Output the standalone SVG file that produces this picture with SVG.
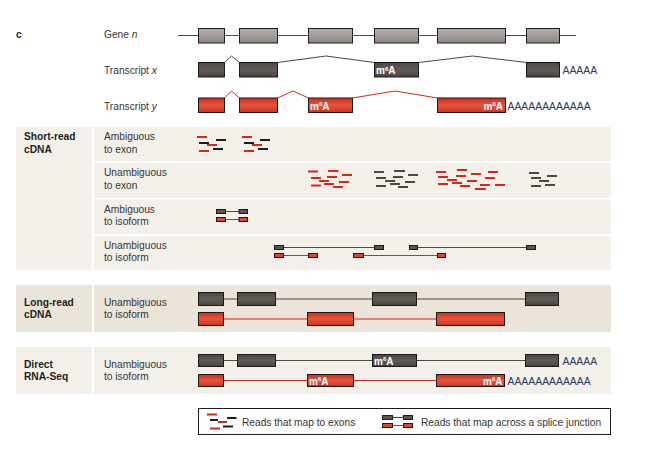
<svg xmlns="http://www.w3.org/2000/svg" width="648" height="455" viewBox="0 0 648 455">
<defs>
<linearGradient id="gGene" x1="0" y1="0" x2="0" y2="1"><stop offset="0" stop-color="#b4aeac"/><stop offset="0.5" stop-color="#a29b99"/><stop offset="1" stop-color="#8e8785"/></linearGradient>
<linearGradient id="gDark" x1="0" y1="0" x2="0" y2="1"><stop offset="0" stop-color="#4c4643"/><stop offset="0.5" stop-color="#625a57"/><stop offset="1" stop-color="#4a4441"/></linearGradient>
<linearGradient id="gRed" x1="0" y1="0" x2="0" y2="1"><stop offset="0" stop-color="#d22b1d"/><stop offset="0.5" stop-color="#e4553b"/><stop offset="1" stop-color="#d0301f"/></linearGradient>
</defs>
<style>
text{font-family:"Liberation Sans",Arial,sans-serif;font-size:10.2px;fill:#353535}
.b{font-weight:bold;fill:#1e1e1e}
.m6{font-weight:bold;fill:#ffffff;font-size:10px}
.pa{fill:#2a3a58;font-size:10.4px}
.gene{fill:url(#gGene);stroke:#1a1a1a;stroke-width:1}
.dk{fill:url(#gDark);stroke:#1a1a1a;stroke-width:1}
.rd{fill:url(#gRed);stroke:#1a1a1a;stroke-width:1}
.lgray{fill:none;stroke:#4f4846;stroke-width:1}
.lred{fill:none;stroke:#d42a1e;stroke-width:1}
.pl{fill:#f3f0ea}
.pd{fill:#ebe4d9}
.sg{fill:#5b5450;stroke:#1a1a1a;stroke-width:1}
.sr{fill:#e0452e;stroke:#1a1a1a;stroke-width:1}
.rr{fill:#d9251c}
.rk{fill:#1c1c1c}
.rg{fill:#4d4843}
</style>
<rect width="648" height="455" fill="#ffffff"/>

<!-- panels -->
<g id="panels">
<rect class="pl" x="16" y="127" width="76" height="143"/>
<rect class="pl" x="94" y="127" width="517" height="34"/>
<rect class="pl" x="94" y="163" width="517" height="35"/>
<rect class="pl" x="94" y="199.5" width="517" height="34.5"/>
<rect class="pl" x="94" y="236" width="517" height="34"/>
<rect class="pd" x="16" y="285" width="76" height="47"/>
<rect class="pd" x="94" y="285" width="517" height="47"/>
<rect class="pl" x="16" y="347" width="76" height="47"/>
<rect class="pl" x="94" y="347" width="517" height="47"/>
</g>

<!-- labels -->
<g id="labels">
<text class="b" x="16" y="38">c</text>
<text x="104" y="38">Gene <tspan font-style="italic">n</tspan></text>
<text x="104" y="74">Transcript <tspan font-style="italic">x</tspan></text>
<text x="104" y="109.5">Transcript <tspan font-style="italic">y</tspan></text>
<text class="b" x="24" y="140">Short-read</text>
<text class="b" x="24" y="152.5">cDNA</text>
<text x="104" y="140">Ambiguous</text>
<text x="104" y="152.5">to exon</text>
<text x="104" y="176">Unambiguous</text>
<text x="104" y="188.5">to exon</text>
<text x="104" y="212.5">Ambiguous</text>
<text x="104" y="224.5">to isoform</text>
<text x="104" y="248.5">Unambiguous</text>
<text x="104" y="260.5">to isoform</text>
<text class="b" x="24" y="306">Long-read</text>
<text class="b" x="24" y="318">cDNA</text>
<text x="104" y="306">Unambiguous</text>
<text x="104" y="318">to isoform</text>
<text class="b" x="24" y="367.5">Direct</text>
<text class="b" x="24" y="379.5">RNA-Seq</text>
<text x="104" y="367.5">Unambiguous</text>
<text x="104" y="379.5">to isoform</text>
</g>

<!-- legend frame (drawn before connectors) -->
<rect x="198.5" y="408.5" width="412" height="26" fill="none" stroke="#1a1a1a" stroke-width="1"/>

<!-- connectors: introns and splice junctions -->
<g id="connectors">
<line class="lgray" x1="178" y1="35.5" x2="576" y2="35.5"/>
<polyline class="lgray" points="224.5,62.5 231.5,56 239.5,62.5"/>
<polyline class="lgray" points="277.5,62.5 326,56 374.5,62.5"/>
<polyline class="lgray" points="418.5,62.5 472.5,56 526.5,62.5"/>
<polyline class="lred" points="224.5,98 231.5,91 239.5,98"/>
<polyline class="lred" points="277.5,98 293,91 308.5,98"/>
<polyline class="lred" points="352.5,98 395,91 437.5,98"/>
<line class="lgray" x1="220" y1="211.5" x2="243" y2="211.5"/>
<line class="lred" x1="220" y1="219.5" x2="243" y2="219.5"/>
<line class="lgray" x1="278" y1="247.5" x2="379" y2="247.5"/>
<line class="lgray" x1="413" y1="247.5" x2="531" y2="247.5"/>
<line class="lred" x1="278" y1="255.5" x2="313" y2="255.5"/>
<line class="lred" x1="358" y1="255.5" x2="441" y2="255.5"/>
<line class="lgray" x1="223.5" y1="299" x2="525.5" y2="299"/>
<line class="lred" x1="223.5" y1="319" x2="436.5" y2="319"/>
<line class="lgray" x1="223.5" y1="360.5" x2="525.5" y2="360.5"/>
<line class="lred" x1="223.5" y1="380.5" x2="436.5" y2="380.5"/>
<line class="lgray" x1="388" y1="417.5" x2="408" y2="417.5"/>
<line class="lred" x1="388" y1="425.5" x2="408" y2="425.5"/>
</g>

<!-- Gene n -->
<g id="gene-n">
<rect class="gene" x="198.5" y="28.5" width="26" height="14.5"/>
<rect class="gene" x="239.5" y="28.5" width="38" height="14.5"/>
<rect class="gene" x="308.5" y="28.5" width="44" height="14.5"/>
<rect class="gene" x="374.5" y="28.5" width="44" height="14.5"/>
<rect class="gene" x="437.5" y="28.5" width="68" height="14.5"/>
<rect class="gene" x="526.5" y="28.5" width="33" height="14.5"/>
</g>

<!-- Transcript x -->
<g id="transcript-x">
<rect class="dk" x="198.5" y="62.5" width="26" height="14.5"/>
<rect class="dk" x="239.5" y="62.5" width="38" height="14.5"/>
<rect class="dk" x="374.5" y="62.5" width="44" height="14.5"/>
<rect class="dk" x="526.5" y="62.5" width="33" height="14.5"/>
<text class="m6" x="376" y="74">m<tspan font-size="6" dy="-3.5">6</tspan><tspan dy="3.5">A</tspan></text>
<text class="pa" x="562.5" y="74">AAAAA</text>
</g>

<!-- Transcript y -->
<g id="transcript-y">
<rect class="rd" x="198.5" y="98" width="26" height="14.5"/>
<rect class="rd" x="239.5" y="98" width="38" height="14.5"/>
<rect class="rd" x="308.5" y="98" width="44" height="14.5"/>
<rect class="rd" x="437.5" y="98" width="68" height="14.5"/>
<text class="m6" x="310" y="109.5">m<tspan font-size="6" dy="-3.5">6</tspan><tspan dy="3.5">A</tspan></text>
<text class="m6" x="503" y="109.5" text-anchor="end">m<tspan font-size="6" dy="-3.5">6</tspan><tspan dy="3.5">A</tspan></text>
<text class="pa" x="507.5" y="109.5">AAAAAAAAAAAA</text>
</g>

<!-- Short read: ambiguous to exon -->
<g id="sr-amb-exon">
<rect class="rr" x="197" y="136" width="10" height="2"/>
<rect class="rk" x="216" y="139" width="10" height="2"/>
<rect class="rk" x="199" y="142" width="10" height="2"/>
<rect class="rr" x="207" y="144" width="10" height="2"/>
<rect class="rk" x="213" y="148" width="10" height="2"/>
<rect class="rr" x="199" y="150" width="10" height="2"/>
<rect class="rr" x="242" y="136" width="10" height="2"/>
<rect class="rk" x="260" y="139" width="10" height="2"/>
<rect class="rk" x="244" y="142" width="10" height="2"/>
<rect class="rr" x="252" y="144" width="10" height="2"/>
<rect class="rk" x="258" y="148" width="10" height="2"/>
<rect class="rr" x="244" y="150" width="10" height="2"/>
</g>

<!-- Short read: unambiguous to exon -->
<g id="sr-unamb-exon">
<rect class="rr" x="308" y="170.5" width="10" height="2"/>
<rect class="rr" x="328" y="170" width="10.5" height="2"/>
<rect class="rr" x="342" y="174" width="10" height="2"/>
<rect class="rr" x="311" y="177" width="10" height="2"/>
<rect class="rr" x="327" y="176" width="10" height="2"/>
<rect class="rr" x="319" y="180" width="10" height="2"/>
<rect class="rr" x="339" y="181" width="10" height="2"/>
<rect class="rr" x="311" y="184.5" width="10" height="2"/>
<rect class="rr" x="324" y="183" width="10" height="2"/>
<rect class="rr" x="333" y="186" width="10" height="2"/>

<rect class="rg" x="374" y="171" width="10" height="2"/>
<rect class="rg" x="394" y="170" width="11" height="2"/>
<rect class="rg" x="408" y="174" width="10" height="2"/>
<rect class="rg" x="376" y="177" width="10" height="2"/>
<rect class="rg" x="393" y="176" width="10" height="2"/>
<rect class="rg" x="385" y="180" width="10" height="2"/>
<rect class="rg" x="405" y="181" width="10" height="2"/>
<rect class="rg" x="390" y="183" width="10" height="2"/>
<rect class="rg" x="376" y="185" width="10" height="2"/>
<rect class="rg" x="398" y="186" width="10" height="2"/>

<rect class="rr" x="436" y="171" width="10" height="2"/>
<rect class="rr" x="457" y="169" width="10" height="2"/>
<rect class="rr" x="471" y="173" width="10" height="2"/>
<rect class="rr" x="488" y="171" width="10" height="2"/>
<rect class="rr" x="438" y="176" width="10" height="2"/>
<rect class="rr" x="456" y="175" width="10" height="2"/>
<rect class="rr" x="485" y="177" width="10" height="2"/>
<rect class="rr" x="447" y="179" width="10" height="2"/>
<rect class="rr" x="467" y="180" width="10" height="2"/>
<rect class="rr" x="452" y="182" width="10" height="2"/>
<rect class="rr" x="438" y="183" width="10" height="2"/>
<rect class="rr" x="480" y="184" width="10" height="2"/>
<rect class="rr" x="495" y="184" width="10" height="2"/>
<rect class="rr" x="460" y="185" width="10" height="2"/>
<rect class="rr" x="475" y="188" width="11" height="2"/>

<rect class="rg" x="529" y="172" width="10" height="2"/>
<rect class="rg" x="547" y="175" width="10" height="2"/>
<rect class="rg" x="531" y="177" width="10" height="2"/>
<rect class="rg" x="539" y="180" width="10" height="2"/>
<rect class="rg" x="545" y="184" width="10" height="2"/>
<rect class="rg" x="531" y="185" width="10" height="2"/>
</g>

<!-- Short read: ambiguous to isoform -->
<g id="sr-amb-iso">
<rect class="sg" x="216.5" y="209.5" width="9" height="4"/>
<rect class="sg" x="239" y="209.5" width="8.5" height="4"/>
<rect class="sr" x="216.5" y="217.5" width="9" height="4"/>
<rect class="sr" x="239" y="217.5" width="8.5" height="4"/>
</g>

<!-- Short read: unambiguous to isoform -->
<g id="sr-unamb-iso">
<rect class="sg" x="274.5" y="245.5" width="9" height="4"/>
<rect class="sg" x="374.5" y="245.5" width="9" height="4"/>
<rect class="sg" x="409.5" y="245.5" width="8" height="4"/>
<rect class="sg" x="526.5" y="245.5" width="9" height="4"/>
<rect class="sr" x="274.5" y="253.5" width="9" height="4"/>
<rect class="sr" x="308.5" y="253.5" width="9" height="4"/>
<rect class="sr" x="353.5" y="253.5" width="10" height="4"/>
<rect class="sr" x="437.5" y="253.5" width="8" height="4"/>
</g>

<!-- Long read -->
<g id="long-read">
<rect class="dk" x="198.5" y="292.5" width="25" height="13"/>
<rect class="dk" x="237.5" y="292.5" width="38" height="13"/>
<rect class="dk" x="372.5" y="292.5" width="44" height="13"/>
<rect class="dk" x="525.5" y="292.5" width="33" height="13"/>
<rect class="rd" x="198.5" y="312.5" width="25" height="13"/>
<rect class="rd" x="307.5" y="312.5" width="46" height="13"/>
<rect class="rd" x="436.5" y="312.5" width="68" height="13"/>
</g>

<!-- Direct RNA-Seq -->
<g id="direct-rna">
<rect class="dk" x="198.5" y="354.5" width="25" height="12"/>
<rect class="dk" x="237.5" y="354.5" width="38" height="12"/>
<rect class="dk" x="372.5" y="354.5" width="44" height="12"/>
<rect class="dk" x="525.5" y="354.5" width="33" height="12"/>
<text class="m6" x="374" y="364.5">m<tspan font-size="6" dy="-3.5">6</tspan><tspan dy="3.5">A</tspan></text>
<text class="pa" x="562.5" y="365">AAAAA</text>
<rect class="rd" x="198.5" y="374.5" width="25" height="12"/>
<rect class="rd" x="307.5" y="374.5" width="46" height="12"/>
<rect class="rd" x="436.5" y="374.5" width="68" height="12"/>
<text class="m6" x="309" y="384.5">m<tspan font-size="6" dy="-3.5">6</tspan><tspan dy="3.5">A</tspan></text>
<text class="m6" x="502.5" y="384.5" text-anchor="end">m<tspan font-size="6" dy="-3.5">6</tspan><tspan dy="3.5">A</tspan></text>
<text class="pa" x="507.5" y="385">AAAAAAAAAAAA</text>
</g>

<!-- Legend -->
<g id="legend">
<rect class="rr" x="207" y="413.5" width="10" height="2"/>
<rect class="rk" x="210" y="419" width="8" height="2"/>
<rect class="rr" x="218" y="421" width="9" height="2"/>
<rect class="rk" x="227" y="417" width="9.5" height="2"/>
<rect class="rr" x="210" y="427.5" width="10" height="2"/>
<rect class="rk" x="223" y="425.5" width="10" height="2"/>
<text x="242" y="425.5">Reads that map to exons</text>
<rect class="sg" x="382.5" y="415.5" width="10" height="4"/>
<rect class="sg" x="403.5" y="415.5" width="9" height="4"/>
<rect class="sr" x="382.5" y="423.5" width="10" height="4"/>
<rect class="sr" x="403.5" y="423.5" width="9" height="4"/>
<text x="421" y="425.5">Reads that map across a splice junction</text>
</g>
</svg>
